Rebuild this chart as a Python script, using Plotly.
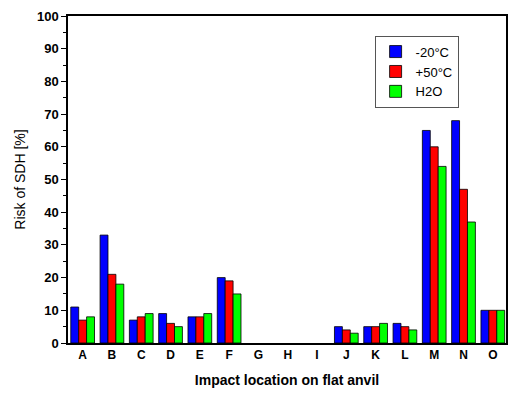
import plotly.graph_objects as go

categories = list("ABCDEFGHIJKLMNO")
cold = [11, 33, 7, 9, 8, 20, 0, 0, 0, 5, 5, 6, 65, 68, 10]
hot = [7, 21, 8, 6, 8, 19, 0, 0, 0, 4, 5, 5, 60, 47, 10]
water = [8, 18, 9, 5, 9, 15, 0, 0, 0, 3, 6, 4, 54, 37, 10]
series_names = ["-20°C", "+50°C", "H2O"]
colors = ["#0000ff", "#ff0000", "#00ff00"]

fig = go.Figure()
for name, vals, c in zip(series_names, [cold, hot, water], colors):
    fig.add_trace(go.Bar(x=categories, y=vals, name=name, marker_color=c,
                         marker_line=dict(color="#000000",
                                          width=[0.8 if v > 0 else 0 for v in vals])))

font = "Liberation Sans, Arial, sans-serif"
fig.update_layout(
    width=510, height=394,
    margin=dict(l=68, r=2, t=16, b=51),
    paper_bgcolor="white", plot_bgcolor="white",
    barmode="group", bargap=0.19, bargroupgap=0,
    font=dict(family=font, color="#000000"),
    showlegend=True,
    legend=dict(x=0.7, y=0.94, xanchor="left", yanchor="top",
                bordercolor="#555555", borderwidth=1, bgcolor="white",
                font=dict(size=13), tracegroupgap=0, itemwidth=30),
    xaxis=dict(
        type="category", range=[-0.5, 14.45],
        showline=True, linecolor="#000000", linewidth=1.5, mirror=True,
        ticks="", tickfont=dict(size=12, family=font, weight="bold"),
        title=dict(text="<b>Impact location on flat anvil</b>", font=dict(size=14), standoff=14),
    ),
    yaxis=dict(
        range=[0, 100], dtick=10, tick0=0,
        showline=True, linecolor="#000000", linewidth=1.5, mirror=True,
        ticks="outside", ticklen=5, tickwidth=1.2, tickcolor="#000000",
        minor=dict(dtick=5, ticks="outside", ticklen=3, tickcolor="#000000"),
        showgrid=False, zeroline=False,
        tickfont=dict(size=13, family=font, weight="bold"),
        title=dict(text="Risk of SDH [%]", font=dict(size=14, color="#000000"), standoff=8),
    ),
)
fig.write_html("out.html", config={"displayModeBar": False},
               post_script="document.body.style.margin='0';document.body.style.overflow='hidden';")
